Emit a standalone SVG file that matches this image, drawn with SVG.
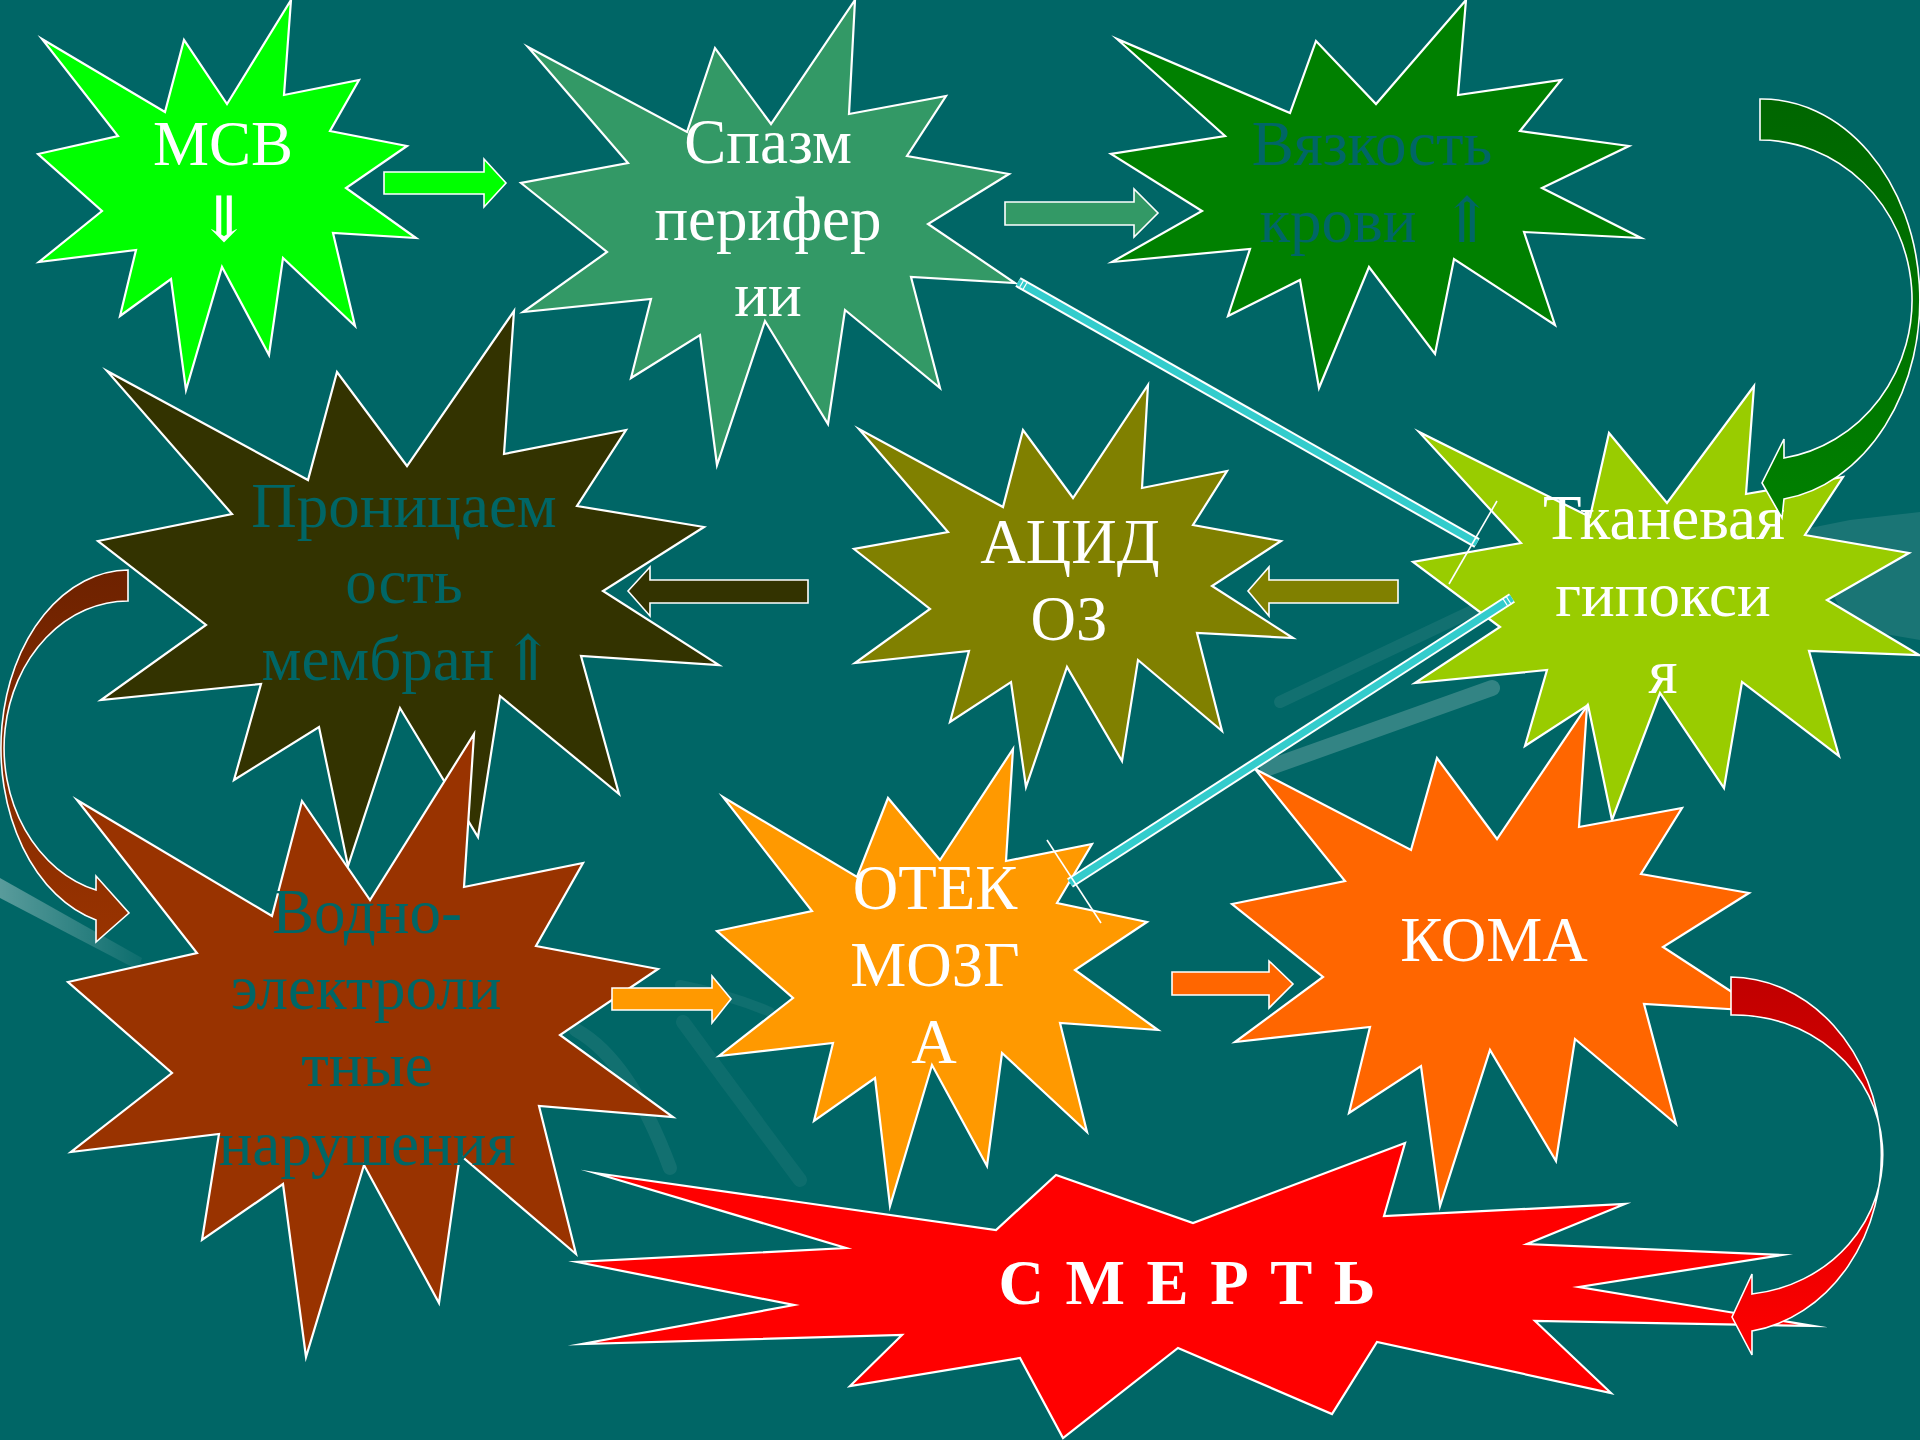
<svg xmlns="http://www.w3.org/2000/svg" width="1920" height="1440" viewBox="0 0 1920 1440">
<defs>
<style>
.star{stroke:#fff;stroke-width:2.2;stroke-linejoin:miter;stroke-miterlimit:20}
.blk{stroke:#fff;stroke-width:1.6;stroke-linejoin:miter}
.t{font-size:63px;text-anchor:middle}
.w{fill:#fff}
.d{fill:#006666}
.ar{font-weight:200}
.cy-o{stroke:#fff;stroke-width:11;fill:none}
.cy-i{stroke:#33CCCC;stroke-width:7;fill:none}
.tick{stroke:#fff;stroke-width:1.2}
.thin{stroke:#fff;stroke-width:1.6;fill:none}
.deco{fill:none;stroke:#fff;stroke-linecap:round}
</style>
<linearGradient id="gGreen" gradientUnits="userSpaceOnUse" x1="0" y1="99" x2="0" y2="518">
<stop offset="0" stop-color="#006600"/><stop offset="1" stop-color="#008000"/>
</linearGradient>
<linearGradient id="gRed" gradientUnits="userSpaceOnUse" x1="0" y1="977" x2="0" y2="1355">
<stop offset="0" stop-color="#C00000"/><stop offset="1" stop-color="#FF0000"/>
</linearGradient>
<linearGradient id="gBrown" gradientUnits="userSpaceOnUse" x1="0" y1="570" x2="0" y2="942">
<stop offset="0" stop-color="#6E2200"/><stop offset="1" stop-color="#993300"/>
</linearGradient>
<linearGradient id="gDeco" x1="0" y1="0" x2="1" y2="0">
<stop offset="0" stop-color="#fff" stop-opacity="0.35"/><stop offset="1" stop-color="#fff" stop-opacity="0.05"/>
</linearGradient>
</defs>
<rect width="1920" height="1440" fill="#006666"/>
<g id="background-decor">
<polygon points="1800,530 1850,520 1920,512 1920,640 1850,628" fill="#fff" opacity="0.1"/>
<path class="deco" d="M1268,768 L1492,688" stroke-width="16" opacity="0.2"/>
<path class="deco" d="M1280,702 L1485,605" stroke-width="12" opacity="0.07"/>
<polygon points="0,878 0,898 138,970 142,958" fill="url(#gDeco)"/>
<path class="deco" d="M683,1022 Q740,1100 800,1180" stroke-width="14" opacity="0.05"/>
<path class="deco" d="M680,985 Q730,995 770,1012" stroke-width="10" opacity="0.06"/>
<path class="deco" d="M576,1030 Q630,1060 670,1168" stroke-width="14" opacity="0.07"/>
</g>
<g id="node-msv">
<polygon class="star" fill="#00FF00" points="291,0 284,95 359,80 330,131 407,146 346,188 416,238 333,233 355,326 283,258 269,355 222,267 186,390 171,279 120,316 136,250 39,262 102,211 38,154 118,136 42,39 165,112 184,40 227,104"/>
<text class="t w" font-family="'Liberation Serif','Times New Roman',Times,serif" x="223" y="165">МСВ</text>
<text class="t w ar" font-family="'DejaVu Sans ExtraLight','DejaVu Serif',serif" x="224" y="241">⇓</text>
</g>
<g id="node-spasm">
<polygon class="star" fill="#339966" points="855,0 849,114 946,96 907,156 1009,174 928,224 1015,283 911,277 940,388 845,310 828,424 765,321 717,465 700,335 631,378 651,299 523,312 607,252 521,183 628,163 528,47 687,132 715,48 771,124"/>
<text class="t w" font-family="'Liberation Serif','Times New Roman',Times,serif"><tspan x="768" y="163">Спазм</tspan><tspan x="768" y="240">перифер</tspan><tspan x="768" y="316">ии</tspan></text>
</g>
<g id="node-viscosity">
<polygon class="star" fill="#008000" points="1466,0 1458,95 1561,80 1520,131 1629,146 1542,188 1641,238 1524,232 1555,325 1454,259 1435,354 1369,267 1319,388 1300,280 1228,316 1250,249 1112,262 1202,211 1111,154 1225,136 1117,39 1290,113 1316,41 1376,104"/>
<text class="t d" font-family="'Liberation Serif','Times New Roman',Times,serif"><tspan x="1372" y="165">Вязкость</tspan><tspan x="1338" y="242">крови</tspan><tspan class="ar" font-family="'DejaVu Sans ExtraLight','DejaVu Serif',serif" x="1467" y="242">⇑</tspan></text>
</g>
<g id="node-permeability">
<polygon class="star" fill="#333300" points="514,311 504,454 626,430 577,506 704,527 603,591 719,665 581,656 619,794 500,696 478,837 400,708 348,866 319,727 234,780 261,684 101,700 206,625 98,541 232,514 107,371 308,480 337,372 407,466"/>
<text class="t d" font-family="'Liberation Serif','Times New Roman',Times,serif"><tspan x="404" y="527">Проницаем</tspan><tspan x="404" y="603">ость</tspan><tspan x="378" y="680">мембран</tspan><tspan class="ar" font-family="'DejaVu Sans ExtraLight','DejaVu Serif',serif" x="528" y="680">⇑</tspan></text>
</g>
<g id="node-acidosis">
<polygon class="star" fill="#808000" points="1148,385 1142,488 1227,471 1193,525 1281,541 1212,586 1293,638 1197,633 1222,731 1138,660 1122,761 1067,667 1026,787 1011,682 950,722 969,651 855,663 930,609 854,549 948,532 859,429 1003,507 1023,430 1073,498"/>
<text class="t w" font-family="'Liberation Serif','Times New Roman',Times,serif"><tspan x="1070" y="563">АЦИД</tspan><tspan x="1069" y="640">ОЗ</tspan></text>
</g>
<g id="node-hypoxia">
<polygon class="star" fill="#99CC00" points="1754,386 1746,494 1843,477 1805,535 1909,553 1827,600 1919,655 1809,651 1839,756 1742,682 1724,788 1660,693 1612,820 1588,705 1525,746 1547,670 1415,683 1500,627 1413,562 1521,543 1419,432 1590,517 1609,433 1667,503"/>
<text class="t w" font-family="'Liberation Serif','Times New Roman',Times,serif"><tspan x="1664" y="539">Тканевая</tspan><tspan x="1663" y="616">гипокси</tspan><tspan x="1663" y="693">я</tspan></text>
</g>
<g id="node-water">
<polygon class="star" fill="#993300" points="474,734 464,887 583,863 536,946 658,969 560,1035 673,1117 539,1106 576,1254 460,1155 439,1303 364,1165 306,1357 283,1184 202,1240 219,1134 71,1152 172,1073 68,982 197,953 77,800 272,916 302,801 370,900"/>
<text class="t d" font-family="'Liberation Serif','Times New Roman',Times,serif"><tspan x="367" y="933">Водно-</tspan><tspan x="366" y="1009">электроли</tspan><tspan x="367" y="1086">тные</tspan><tspan x="367" y="1165">нарушения</tspan></text>
</g>
<g id="node-edema">
<polygon class="star" fill="#FF9900" points="1013,749 1006,861 1092,844 1057,903 1147,922 1075,970 1158,1030 1060,1023 1087,1132 1002,1053 987,1166 932,1065 890,1206 875,1078 814,1121 833,1043 719,1056 793,998 717,931 812,911 723,797 857,877 888,798 940,860"/>
<text class="t w" font-family="'Liberation Serif','Times New Roman',Times,serif"><tspan x="935" y="909">ОТЕК</tspan><tspan x="935" y="986">МОЗГ</tspan><tspan x="934" y="1063">А</tspan></text>
</g>
<g id="node-coma">
<polygon class="star" fill="#FF6600" points="1587,706 1579,827 1682,808 1641,874 1749,893 1663,947 1761,1011 1644,1004 1676,1124 1575,1039 1556,1161 1490,1050 1440,1206 1421,1066 1349,1113 1370,1027 1235,1042 1323,977 1232,904 1345,881 1255,769 1411,850 1437,758 1497,839"/>
<text class="t w" font-family="'Liberation Serif','Times New Roman',Times,serif" x="1494" y="961">КОМА</text>
</g>
<g id="node-death">
<polygon class="star" fill="#FF0000" points="595,1173 996,1230 1056,1175 1193,1223 1405,1143 1384,1216 1625,1204 1527,1244 1782,1255 1579,1287 1813,1326 1535,1321 1611,1393 1377,1342 1332,1414 1178,1348 1063,1438 1020,1358 850,1386 902,1335 582,1344 794,1305 577,1262 846,1248"/>
<text class="t w" font-family="'Liberation Serif','Times New Roman',Times,serif" x="1187" y="1304" font-weight="bold" textLength="377" lengthAdjust="spacing">С М Е Р Т Ь</text>
</g>
<g id="connectors">
<path class="blk" fill="#00FF00" d="M384,172 H484 V159 L506,183 L484,207 V194 H384 Z"/>
<path class="blk" fill="#339966" d="M1005,202 H1134 V189 L1158,213 L1134,237 V225 H1005 Z"/>
<path class="blk" fill="#808000" d="M1398,580 H1269 V567 L1248,591 L1269,616 V603 H1398 Z"/>
<path class="blk" fill="#333300" d="M808,580 H650 V567 L628,591 L650,616 V603 H808 Z"/>
<path class="blk" fill="#FF9900" d="M612,988 H712 V976 L731,999 L712,1023 V1010 H612 Z"/>
<path class="blk" fill="#FF6600" d="M1172,972 H1269 V961 L1293,984 L1269,1008 V995 H1172 Z"/>
<path class="blk" fill="url(#gGreen)" d="M1760,99 A158,201 0 0 1 1784,499 L1782,518 L1762,483 L1784,439 L1784,458 A152,160 0 0 0 1760,140 Z"/>
<path class="blk" fill="url(#gRed)" d="M1731,977 A152,178 0 0 1 1752,1331 L1752,1355 L1732,1317 L1752,1274 L1752,1294 A148,140 0 0 0 1731,1015 Z"/>
<path class="blk" fill="url(#gBrown)" d="M128,570 A128,178 0 0 0 96,920 L96,942 L129,913 L96,876 L96,890 A124,147 0 0 1 128,601 Z"/>
<line class="cy-o" x1="1018" y1="282" x2="1477" y2="543"/>
<line class="cy-i" x1="1018" y1="282" x2="1477" y2="543"/>
<line class="tick" x1="1019" y1="288.3" x2="1024" y2="279.7"/>
<line class="tick" x1="1022.5" y1="290.3" x2="1027.5" y2="281.7"/>
<line class="thin" x1="1497" y1="501" x2="1449" y2="584"/>
<line class="cy-o" x1="1512" y1="598" x2="1070" y2="883"/>
<line class="cy-i" x1="1512" y1="598" x2="1070" y2="883"/>
<line class="tick" x1="1511.3" y1="604.4" x2="1505.9" y2="596"/>
<line class="tick" x1="1508" y1="606.5" x2="1502.6" y2="598.1"/>
<line class="thin" x1="1047" y1="840" x2="1101" y2="923"/>
</g>
</svg>
